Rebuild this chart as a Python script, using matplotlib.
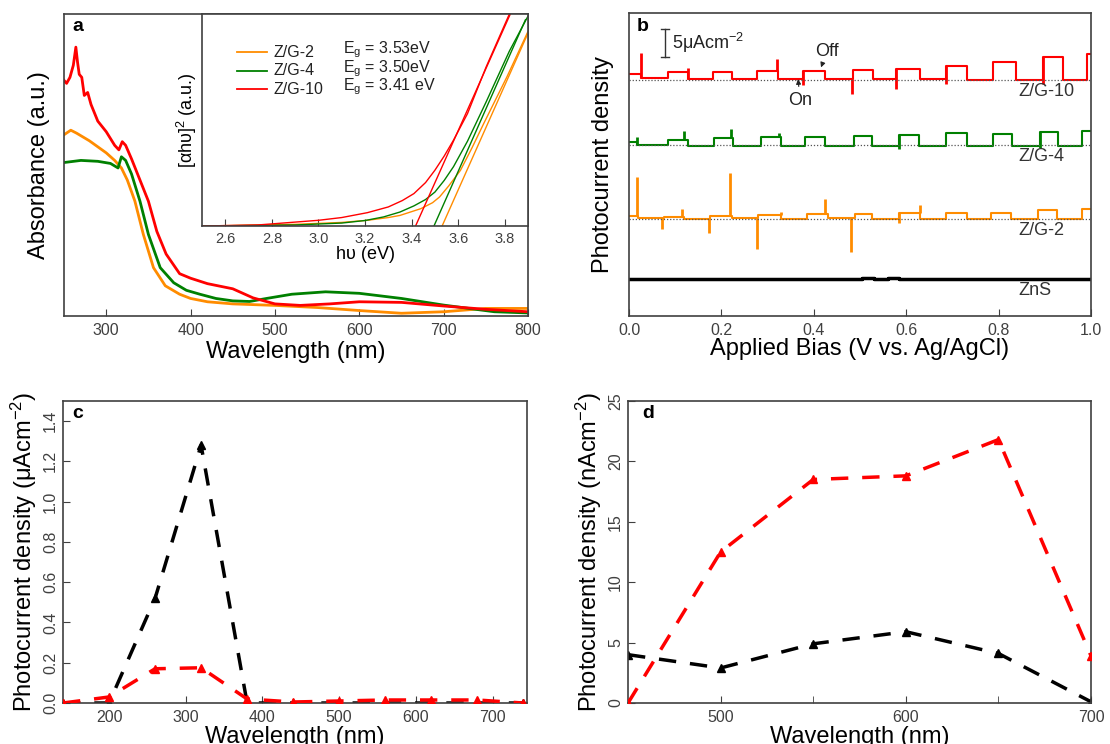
import numpy as np
import matplotlib
matplotlib.use("Agg")
import matplotlib.pyplot as plt

plt.rcParams['font.family'] = ['Liberation Sans', 'DejaVu Sans']
plt.rcParams['mathtext.default'] = 'regular'
plt.rcParams['xtick.direction'] = 'in'
plt.rcParams['ytick.direction'] = 'in'
plt.rcParams['axes.edgecolor'] = '#404040'
plt.rcParams['axes.linewidth'] = 1.2
plt.rcParams['xtick.color'] = '#404040'
plt.rcParams['ytick.color'] = '#404040'
plt.rcParams['xtick.labelsize'] = 11.5
plt.rcParams['ytick.labelsize'] = 11.5
plt.rcParams['xtick.major.size'] = 5
plt.rcParams['ytick.major.size'] = 5
plt.rcParams['xtick.major.pad'] = 5

ORANGE = '#ff8c00'
GREEN = '#008000'
RED = '#ff0000'

# ---- panel a: UV-vis absorbance ----
wl_zg2 = [250, 258, 265, 280, 290, 300, 310, 318, 325, 334, 344, 356, 370, 387, 400, 420, 450, 500, 550, 600, 650, 700, 750, 800]
abs_zg2 = [0.60, 0.615, 0.605, 0.58, 0.56, 0.54, 0.515, 0.49, 0.45, 0.38, 0.27, 0.16, 0.10, 0.072, 0.058, 0.047, 0.04, 0.035, 0.028, 0.018, 0.009, 0.014, 0.025, 0.025]
wl_zg4 = [250, 270, 290, 305, 314, 318, 323, 330, 340, 350, 364, 380, 395, 411, 430, 450, 470, 490, 520, 560, 600, 650, 700, 760, 800]
abs_zg4 = [0.508, 0.515, 0.512, 0.505, 0.49, 0.527, 0.515, 0.47, 0.38, 0.27, 0.16, 0.11, 0.085, 0.072, 0.058, 0.05, 0.048, 0.058, 0.072, 0.08, 0.075, 0.058, 0.036, 0.014, 0.01]
wl_zg10 = [250, 253, 257, 261, 264, 266, 268, 271, 274, 278, 282, 290, 300, 310, 315, 319, 323, 330, 340, 350, 360, 371, 387, 400, 420, 450, 474, 500, 530, 565, 600, 650, 700, 750, 800]
abs_zg10 = [0.78, 0.77, 0.79, 0.83, 0.89, 0.84, 0.80, 0.79, 0.73, 0.74, 0.70, 0.645, 0.61, 0.565, 0.55, 0.577, 0.565, 0.52, 0.45, 0.38, 0.28, 0.205, 0.14, 0.125, 0.107, 0.09, 0.06, 0.04, 0.035, 0.04, 0.047, 0.045, 0.033, 0.022, 0.014]

# inset: Tauc plot curves and linear fits
ev_zg2 = [2.5, 2.9, 3.1, 3.21, 3.3, 3.35, 3.44, 3.49, 3.52, 3.56, 3.61, 3.66, 3.71, 3.81, 3.9]
tauc_zg2 = [0.0, 0.008, 0.017, 0.027, 0.04, 0.05, 0.082, 0.11, 0.137, 0.19, 0.263, 0.37, 0.484, 0.705, 0.918]
ev_zg4 = [2.5, 2.9, 3.1, 3.2, 3.28, 3.35, 3.41, 3.46, 3.5, 3.54, 3.58, 3.64, 3.72, 3.82, 3.9]
tauc_zg4 = [0.0, 0.005, 0.014, 0.026, 0.043, 0.066, 0.095, 0.125, 0.16, 0.215, 0.28, 0.40, 0.585, 0.825, 0.99]
ev_zg10 = [2.5, 2.74, 3.0, 3.1, 3.21, 3.3, 3.36, 3.41, 3.46, 3.5, 3.54, 3.58, 3.64, 3.72, 3.82]
tauc_zg10 = [0.0, 0.005, 0.027, 0.04, 0.063, 0.09, 0.12, 0.153, 0.205, 0.263, 0.33, 0.405, 0.53, 0.75, 1.0]
fit_ev_zg2 = [3.531, 3.9]
fit_zg2 = [0.0, 0.91]
fit_ev_zg4 = [3.496, 3.889]
fit_zg4 = [0.0, 0.973]
fit_ev_zg10 = [3.417, 3.824]
fit_zg10 = [0.0, 1.0]
eg_labels = ['Z/G-2', 'Z/G-4', 'Z/G-10']
eg_values = ['3.53eV', '3.50eV', '3.41 eV']

# ---- panel b: chopped photocurrent (uA/cm2 above each baseline) ----
zg10_edges = [0.0, 0.026, 0.084, 0.128, 0.181, 0.223, 0.278, 0.322, 0.376, 0.425, 0.484, 0.528, 0.577, 0.629, 0.686, 0.731, 0.787, 0.837, 0.895, 0.939, 0.992, 1.0]
zg10_levels = [1.2, 0.4, 1.4, 0.2, 1.4, 0.3, 1.6, 0.3, 1.7, 0.2, 1.8, 0.2, 2.1, 0.2, 2.5, 0.1, 3.2, 0.1, 4.1, 0.0, 4.6]
zg10_spike_x = [0.026, 0.128, 0.321, 0.376, 0.482, 0.577, 0.686, 0.895]
zg10_spike_y = [4.8, 2.2, 3.8, -0.8, -2.5, -1.5, -0.6, -0.6]

zg4_edges = [0.0, 0.018, 0.084, 0.128, 0.183, 0.226, 0.285, 0.329, 0.38, 0.424, 0.486, 0.526, 0.585, 0.627, 0.687, 0.731, 0.788, 0.83, 0.889, 0.928, 0.98, 1.0]
zg4_levels = [0.5, -0.1, 0.9, -0.2, 1.2, -0.2, 1.4, -0.2, 1.4, -0.2, 1.5, -0.2, 1.8, -0.2, 2.1, -0.2, 1.9, -0.2, 2.2, -0.2, 2.4]
zg4_spike_x = [0.018, 0.118, 0.221, 0.324, 0.585, 0.889]
zg4_spike_y = [1.4, 2.4, 2.8, 2.1, -0.8, -0.5]

zg2_edges = [0.0, 0.02, 0.075, 0.118, 0.175, 0.222, 0.28, 0.33, 0.385, 0.43, 0.49, 0.526, 0.585, 0.63, 0.687, 0.731, 0.783, 0.826, 0.885, 0.927, 0.98, 1.0]
zg2_levels = [0.6, 0.2, 0.4, 0.0, 0.6, 0.2, 0.7, 0.0, 0.8, 0.1, 0.9, 0.0, 1.0, 0.0, 1.0, -0.1, 1.0, -0.1, 1.5, -0.1, 1.8]
zg2_spike_x = [0.017, 0.071, 0.115, 0.173, 0.219, 0.276, 0.329, 0.424, 0.48, 0.585, 0.629]
zg2_spike_y = [7.4, -1.8, 1.8, -2.6, 8.1, -5.3, 1.2, 3.5, -5.9, -0.8, 2.5]

zns_edges = [0.0, 0.505, 0.53, 0.56, 0.585, 1.0]
zns_levels = [0.0, 0.2, 0.0, 0.2, 0.0]

baselines = {'Z/G-10': 42.0, 'Z/G-4': 30.5, 'Z/G-2': 17.3, 'ZnS': 6.6}

# ---- panel c / d: action spectra ----
c_wl = [140, 200, 260, 320, 380, 440, 500, 560, 620, 680, 740]
c_black = [0.0, 0.0, 0.52, 1.28, 0.0, 0.0, 0.0, 0.0, 0.0, 0.0, 0.0]
c_red = [0.0, 0.03, 0.17, 0.175, 0.02, 0.005, 0.01, 0.015, 0.015, 0.015, 0.0]

d_wl = [450, 500, 550, 600, 650, 700]
d_red = [0.0, 12.5, 18.5, 18.8, 21.8, 3.9]
d_black = [4.0, 2.9, 4.9, 5.9, 4.1, 0.1]


def step_xy(edges, levels):
    xs = np.repeat(edges, 2)[1:-1]
    ys = np.repeat(levels, 2)
    return xs, ys


def draw_trace(ax, edges, levels, spike_x, spike_y, base, color, lw=1.5):
    xs, ys = step_xy(edges, levels)
    ax.plot(xs, ys + base, color=color, lw=lw)
    if spike_x:
        idx = np.clip(np.searchsorted(edges, spike_x, side='right') - 1, 0, len(levels) - 1)
        lev = np.asarray(levels)[idx]
        ax.vlines(spike_x, lev + base, np.asarray(spike_y) + base, color=color, lw=2)


fig = plt.figure(figsize=(11.1, 7.44), dpi=100)

ax_a = fig.add_axes([0.0577, 0.5753, 0.418, 0.406])
ax_in = fig.add_axes([0.182, 0.6962, 0.2937, 0.285])
ax_b = fig.add_axes([0.5667, 0.5753, 0.4162, 0.4073])
ax_c = fig.add_axes([0.0568, 0.0551, 0.418, 0.406])
ax_d = fig.add_axes([0.5658, 0.0551, 0.4171, 0.406])

# panel a
ax_a.plot(wl_zg2, abs_zg2, color=ORANGE, lw=2)
ax_a.plot(wl_zg4, abs_zg4, color=GREEN, lw=2)
ax_a.plot(wl_zg10, abs_zg10, color=RED, lw=2)
ax_a.set_xlim(250, 800)
ax_a.set_ylim(0, 1)
ax_a.set_xticks([300, 400, 500, 600, 700, 800])
ax_a.set_yticks([])
ax_a.set_xlabel('Wavelength (nm)', fontsize=17, labelpad=2)
ax_a.set_ylabel('Absorbance (a.u.)', fontsize=17, labelpad=10)
ax_a.text(0.017, 0.957, 'a', transform=ax_a.transAxes, fontsize=14, fontweight='bold', va='center')

# inset
ax_in.set_facecolor('white')
for ev, ta, c in [(ev_zg2, tauc_zg2, ORANGE), (ev_zg4, tauc_zg4, GREEN), (ev_zg10, tauc_zg10, RED)]:
    ax_in.plot(ev, ta, color=c, lw=1)
for ev, ta, c in [(fit_ev_zg2, fit_zg2, ORANGE), (fit_ev_zg4, fit_zg4, GREEN), (fit_ev_zg10, fit_zg10, RED)]:
    ax_in.plot(ev, ta, color=c, lw=1)
ax_in.set_xlim(2.5, 3.9)
ax_in.set_ylim(0, 1)
ax_in.set_xticks(np.arange(2.6, 3.81, 0.2))
ax_in.set_xticklabels([f'{v:.1f}' for v in np.arange(2.6, 3.81, 0.2)])
ax_in.tick_params(labelsize=10.5, pad=4)
ax_in.set_yticks([])
ax_in.set_xlabel('hυ (eV)', fontsize=13, labelpad=0)
ax_in.set_ylabel('[αhυ]$^2$ (a.u.)', fontsize=13, labelpad=2)
for i, (lab, val, c) in enumerate(zip(eg_labels, eg_values, [ORANGE, GREEN, RED])):
    y = 0.82 - i * 0.087
    ax_in.plot([0.107, 0.2], [y, y], color=c, lw=1.3, transform=ax_in.transAxes)
    ax_in.text(0.218, y, lab, transform=ax_in.transAxes, fontsize=11.5, va='center', color='#222222')
    ax_in.text(0.433, y + 0.01, 'E$_g$ = ' + val, transform=ax_in.transAxes, fontsize=11.5, va='center', color='#222222')

# panel b
draw_trace(ax_b, zg10_edges, zg10_levels, zg10_spike_x, zg10_spike_y, baselines['Z/G-10'], RED)
draw_trace(ax_b, zg4_edges, zg4_levels, zg4_spike_x, zg4_spike_y, baselines['Z/G-4'], GREEN)
draw_trace(ax_b, zg2_edges, zg2_levels, zg2_spike_x, zg2_spike_y, baselines['Z/G-2'], ORANGE)
draw_trace(ax_b, zns_edges, zns_levels, [], [], baselines['ZnS'], 'black', lw=2.5)
for name, base in baselines.items():
    if name != 'ZnS':
        ax_b.hlines(base, 0, 1, color='#555555', ls=(0, (1, 1.5)), lw=0.9, zorder=3)
    ax_b.text(0.842, base - 2.0, name, fontsize=13, va='center', color='#333333')
ax_b.set_xlim(0, 1.0)
ax_b.set_ylim(0, 54)
ax_b.set_xticks(np.arange(0, 1.01, 0.2))
ax_b.set_xticklabels([f'{v:.1f}' for v in np.arange(0, 1.01, 0.2)])
ax_b.set_yticks([])
ax_b.set_xlabel('Applied Bias (V vs. Ag/AgCl)', fontsize=17, labelpad=0)
ax_b.set_ylabel('Photocurrent density', fontsize=17, labelpad=11)
ax_b.text(0.017, 0.955, 'b', transform=ax_b.transAxes, fontsize=14, fontweight='bold', va='center')
# 5 uA scale bar
ax_b.plot([0.078, 0.078], [46.1, 51.1], color='#333333', lw=1)
ax_b.plot([0.07, 0.086], [46.1, 46.1], color='#333333', lw=1)
ax_b.plot([0.07, 0.086], [51.1, 51.1], color='#333333', lw=1)
ax_b.text(0.092, 48.6, '5μAcm$^{-2}$', fontsize=13, va='center', color='#222222')
ax_b.annotate('Off', xy=(0.4156, 44.3), xytext=(0.4286, 47.2), fontsize=13, ha='center', va='center',
              color='#222222', arrowprops=dict(arrowstyle='-|>', color='#222222', lw=0.8, mutation_scale=7, shrinkA=2, shrinkB=0))
ax_b.annotate('On', xy=(0.366, 42.2), xytext=(0.37, 38.4), fontsize=13, ha='center', va='center',
              color='#222222', arrowprops=dict(arrowstyle='-|>', color='#222222', lw=0.8, mutation_scale=7, shrinkA=2, shrinkB=0))

# panel c
ax_c.plot(c_wl, c_black, color='black', ls='--', dashes=(5, 4), lw=2.5, marker='^', ms=6, zorder=2)
ax_c.plot(c_wl, c_red, color=RED, ls='--', dashes=(5, 4), lw=2.5, marker='^', ms=6, zorder=3)
ax_c.set_xlim(140, 745)
ax_c.set_ylim(0, 1.5)
ax_c.set_xticks(np.arange(200, 701, 100))
ax_c.set_yticks(np.arange(0, 1.41, 0.2))
ax_c.set_yticklabels([f'{v:.1f}' for v in np.arange(0, 1.41, 0.2)], rotation=90, va='center')
ax_c.set_xlabel('Wavelength (nm)', fontsize=17, labelpad=1)
ax_c.set_ylabel('Photocurrent density (μAcm$^{-2}$)', fontsize=17, labelpad=3)
ax_c.text(0.02, 0.96, 'c', transform=ax_c.transAxes, fontsize=14, fontweight='bold', va='center')

# panel d
ax_d.plot(d_wl, d_black, color='black', ls='--', dashes=(5, 4), lw=2.5, marker='^', ms=6, zorder=2)
ax_d.plot(d_wl, d_red, color=RED, ls='--', dashes=(5, 4), lw=2.5, marker='^', ms=6, zorder=3)
ax_d.set_xlim(450, 700)
ax_d.set_ylim(0, 25)
ax_d.set_xticks([500, 600, 700])
ax_d.set_xticks([550, 650], minor=True)
ax_d.tick_params(which='minor', direction='in', length=5)
ax_d.set_yticks(np.arange(0, 26, 5))
ax_d.set_yticklabels([str(v) for v in range(0, 26, 5)], rotation=90, va='center')
ax_d.set_xlabel('Wavelength (nm)', fontsize=17, labelpad=1)
ax_d.set_ylabel('Photocurrent density (nAcm$^{-2}$)', fontsize=17, labelpad=3)
ax_d.text(0.03, 0.96, 'd', transform=ax_d.transAxes, fontsize=14, fontweight='bold', va='center')

fig.savefig('out.png', dpi=100)
